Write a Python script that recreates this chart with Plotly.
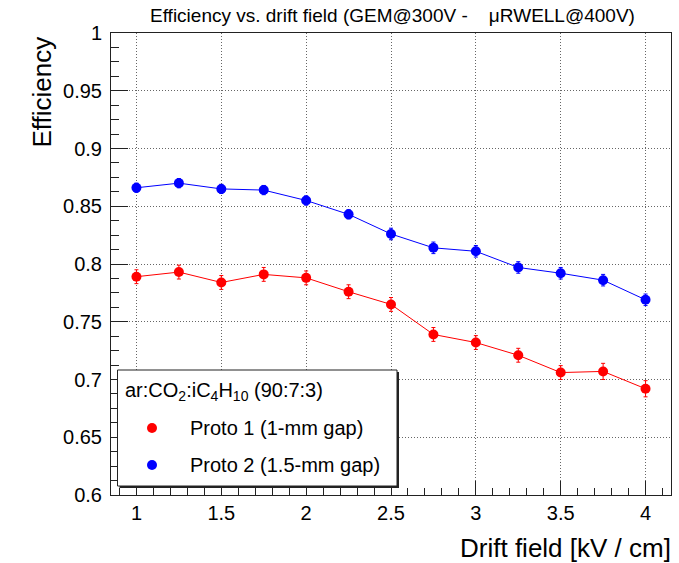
import plotly.graph_objects as go

# Drift field scan points [kV/cm]
drift_field = [1.0, 1.25, 1.5, 1.75, 2.0, 2.25, 2.5, 2.75, 3.0, 3.25, 3.5, 3.75, 4.0]

# Efficiency of prototype 1 (1-mm gap) and its uncertainty
eff_proto1 = [0.789, 0.793, 0.784, 0.791, 0.788, 0.776, 0.765, 0.739, 0.732, 0.721, 0.706, 0.707, 0.692]
err_proto1 = [0.006, 0.006, 0.006, 0.006, 0.006, 0.006, 0.006, 0.006, 0.006, 0.006, 0.006, 0.007, 0.007]

# Efficiency of prototype 2 (1.5-mm gap) and its uncertainty
eff_proto2 = [0.866, 0.870, 0.865, 0.864, 0.855, 0.843, 0.826, 0.814, 0.811, 0.797, 0.792, 0.786, 0.769]
err_proto2 = [0.004, 0.004, 0.004, 0.004, 0.004, 0.004, 0.005, 0.005, 0.005, 0.005, 0.005, 0.005, 0.005]

series_names = ["Proto 1 (1-mm gap)", "Proto 2 (1.5-mm gap)"]
series_colors = ["#ff0000", "#0000ff"]
gas_label = "ar:CO<sub>2</sub>:iC<sub>4</sub>H<sub>10</sub> (90:7:3)"

FONT = "Liberation Sans, Arial, Helvetica, sans-serif"
W, H = 679, 563
ML, MR, MT, MB = 111, 8, 33, 68
PW, PH = W - ML - MR, H - MT - MB


def px_x(p):
    return (p - ML) / PW


def px_y(p):
    return (H - MB - p) / PH


fig = go.Figure()
for y, e, name, col in [(eff_proto1, err_proto1, series_names[0], series_colors[0]),
                        (eff_proto2, err_proto2, series_names[1], series_colors[1])]:
    fig.add_trace(go.Scatter(
        x=drift_field, y=y, name=name, mode="lines+markers",
        line=dict(color=col, width=1),
        marker=dict(color=col, size=10, symbol="circle"),
        error_y=dict(type="data", array=e, color=col, thickness=1, width=2),
        showlegend=False,
    ))

axis_common = dict(
    showline=True, linecolor="#222", linewidth=1, mirror=True,
    ticks="inside", tickcolor="#222", tickwidth=1,
    showgrid=True, gridcolor="#666", gridwidth=1, griddash="1px,2px",
    zeroline=False,
    tickfont=dict(family=FONT, size=20, color="black"),
)

fig.update_xaxes(
    range=[0.85, 4.15], dtick=0.5, tick0=0, ticklen=14,
    minor=dict(dtick=0.1, tick0=0, ticklen=7, ticks="inside", tickcolor="#222", showgrid=False),
    ticklabelstandoff=0,
    **axis_common,
)
fig.update_yaxes(
    range=[0.6, 1.0], dtick=0.05, tick0=0, ticklen=17,
    minor=dict(dtick=0.0125, tick0=0, ticklen=8, ticks="inside", tickcolor="#222", showgrid=False),
    ticklabelstandoff=4,
    **axis_common,
)

annotations = [
    # plot title
    dict(text="Efficiency vs. drift field (GEM@300V -\u00a0\u00a0\u00a0 \u03bcRWELL@400V)",
         xref="paper", yref="paper", x=px_x(392), y=px_y(15),
         xanchor="center", yanchor="middle", showarrow=False,
         font=dict(family=FONT, size=19, color="black")),
    # axis titles
    dict(text="Drift field [kV / cm]", xref="paper", yref="paper",
         x=px_x(673), y=px_y(548), xanchor="right", yanchor="middle", showarrow=False,
         font=dict(family=FONT, size=26, color="black")),
    dict(text="Efficiency", xref="paper", yref="paper", textangle=-90,
         x=px_x(42), y=px_y(35), xanchor="center", yanchor="top", showarrow=False,
         font=dict(family=FONT, size=26, color="black")),
    # legend header and entries
    dict(text=gas_label, xref="paper", yref="paper",
         x=px_x(123), y=px_y(391), xanchor="left", yanchor="middle", showarrow=False,
         font=dict(family=FONT, size=20, color="black")),
]

shapes = [
    # legend box with a small shadow
    dict(type="rect", xref="paper", yref="paper",
         x0=px_x(119.5), x1=px_x(399), y0=px_y(372), y1=px_y(488),
         line=dict(width=0), fillcolor="#222"),
    dict(type="rect", xref="paper", yref="paper",
         x0=px_x(117.5), x1=px_x(397), y0=px_y(370), y1=px_y(486),
         line=dict(width=1, color="#222"), fillcolor="white"),
]

for i, (name, col) in enumerate(zip(series_names, series_colors)):
    yc = 428 + 37 * i
    shapes.append(dict(type="circle", xref="paper", yref="paper",
                       xsizemode="pixel", ysizemode="pixel",
                       xanchor=px_x(152), yanchor=px_y(yc),
                       x0=-5, x1=5, y0=-5, y1=5,
                       line=dict(width=0), fillcolor=col))
    annotations.append(dict(text=name, xref="paper", yref="paper",
                            x=px_x(188), y=px_y(yc), xanchor="left", yanchor="middle",
                            showarrow=False, font=dict(family=FONT, size=20, color="black")))

fig.update_layout(
    width=W, height=H,
    margin=dict(l=ML, r=MR, t=MT, b=MB),
    paper_bgcolor="white", plot_bgcolor="white",
    font=dict(family=FONT, color="black"),
    annotations=annotations, shapes=shapes,
    showlegend=False,
)

fig.write_html("out.html")
